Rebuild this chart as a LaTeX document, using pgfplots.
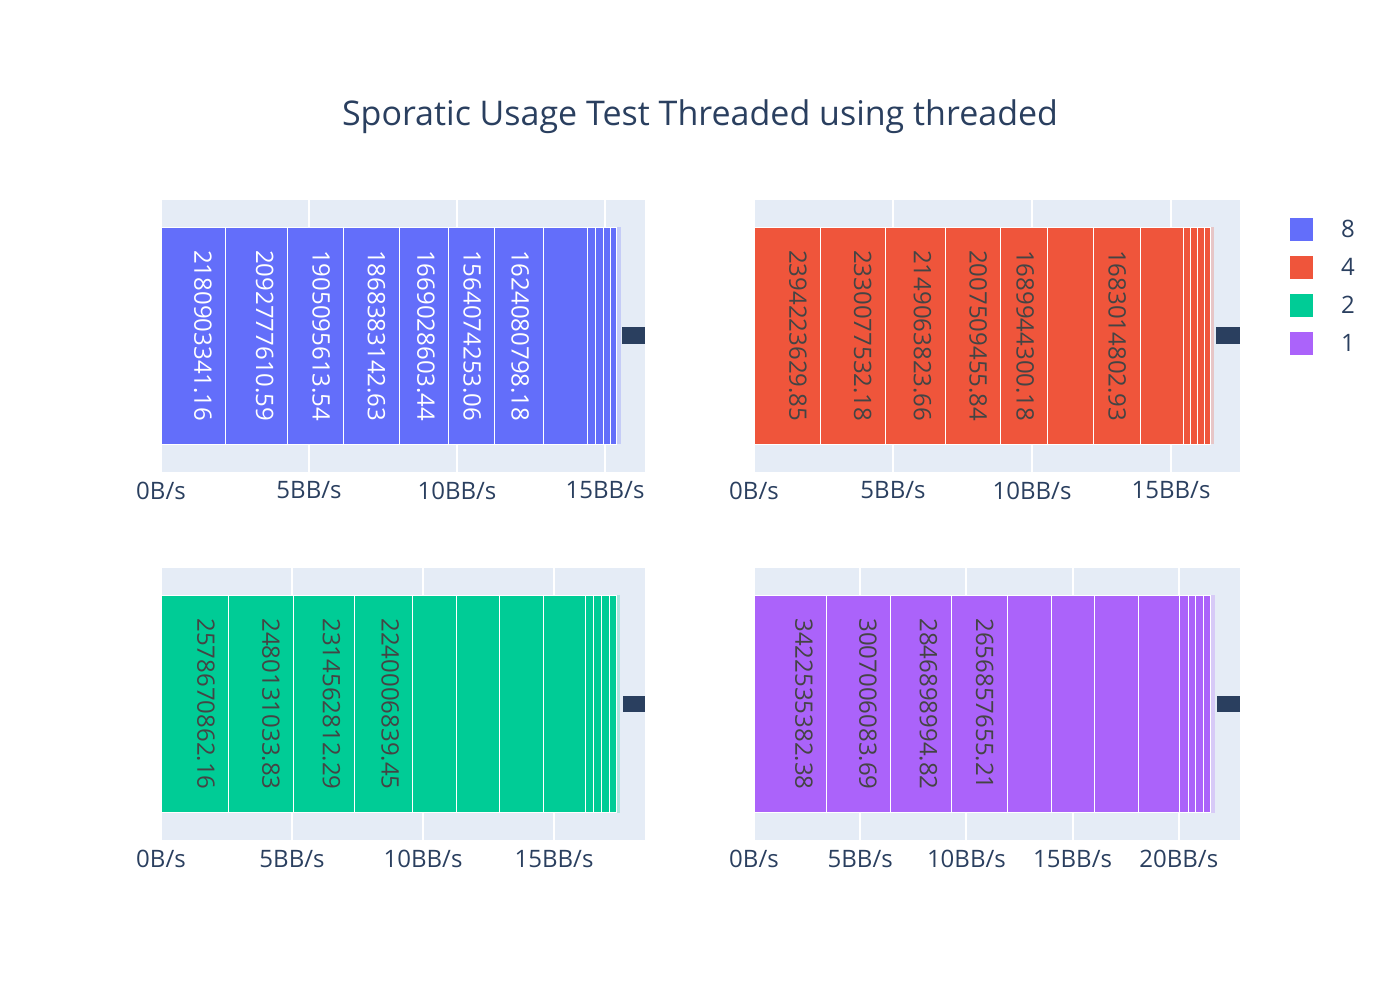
\documentclass[border=0pt]{standalone}
\usepackage{fontspec}
\setmainfont{Open Sans}
\usepackage{pgfplots}
\pgfplotsset{compat=1.18}
\definecolor{bg}{HTML}{E5ECF6}
\definecolor{txt}{HTML}{2A3F5F}
\definecolor{c8}{HTML}{636EFA}
\definecolor{c4}{HTML}{EF553B}
\definecolor{c2}{HTML}{00CC96}
\definecolor{c1}{HTML}{AB63FA}
\definecolor{lbl}{HTML}{444444}
\pgfplotsset{
  sub/.style={
    scale only axis, width=242bp, height=135.8bp,
    axis background/.style={fill=bg},
    axis line style={draw=none},
    xbar stacked, bar width=0.8,
    ymin=-0.5, ymax=0.5, ytick=\empty,
    xmin=0,
    xmajorgrids, grid style={white, line width=1bp},
    major tick length=0pt,
    tick label style={font=\fontsize{12bp}{14bp}\selectfont, text=txt},
    xticklabel style={yshift=-1.5bp},
    /pgf/number format/assume math mode=true,
    every axis plot/.append style={draw=white, line width=0.5bp},
    clip=true,
  },
}
\tikzset{seglbl/.style={rotate=-90, anchor=north, inner sep=0pt, font=\fontsize{12bp}{14bp}\selectfont}}
\begin{document}
\begin{tikzpicture}
\useasboundingbox (0,0) rectangle (700bp,500bp);
\node[text=txt, font=\fontsize{17bp}{20bp}\selectfont] at (350bp,441.5bp) {Sporatic Usage Test Threaded using threaded};

% ---- 8 threads (blue)
\begin{axis}[sub, at={(80.5bp,264.2bp)}, anchor=south west, xmax=16.35,
  xtick={0,5,10,15}, xticklabels={0B/s,5BB/s,10BB/s,15BB/s}]
\addplot[fill=c8] coordinates {(2.18090334116,0)};
\addplot[fill=c8] coordinates {(2.09277761059,0)};
\addplot[fill=c8] coordinates {(1.90509561354,0)};
\addplot[fill=c8] coordinates {(1.86838314263,0)};
\addplot[fill=c8] coordinates {(1.66902860344,0)};
\addplot[fill=c8] coordinates {(1.56407425306,0)};
\addplot[fill=c8] coordinates {(1.62408079818,0)};
\addplot[fill=c8] coordinates {(1.51,0)};
\addplot[fill=c8] coordinates {(0.27,0)};
\addplot[fill=c8] coordinates {(0.27,0)};
\addplot[fill=c8] coordinates {(0.23,0)};
\addplot[fill=c8] coordinates {(0.20,0)};
\addplot[fill=c8!25!bg, draw=none] coordinates {(0.16,0)};
\fill[txt] (axis cs:15.58,-0.031) rectangle (axis cs:16.35,0.031);
\coordinate (a1) at (axis cs:2.18090334,0);
\coordinate (a2) at (axis cs:4.27368095,0);
\coordinate (a3) at (axis cs:6.17877656,0);
\coordinate (a4) at (axis cs:8.04715970,0);
\coordinate (a5) at (axis cs:9.71618830,0);
\coordinate (a6) at (axis cs:11.28026255,0);
\coordinate (a7) at (axis cs:12.90434335,0);
\end{axis}
\node[seglbl, text=white] at ([xshift=-6.75bp]a1) {2180903341.16};
\node[seglbl, text=white] at ([xshift=-6.75bp]a2) {2092777610.59};
\node[seglbl, text=white] at ([xshift=-6.75bp]a3) {1905095613.54};
\node[seglbl, text=white] at ([xshift=-6.75bp]a4) {1868383142.63};
\node[seglbl, text=white] at ([xshift=-6.75bp]a5) {1669028603.44};
\node[seglbl, text=white] at ([xshift=-6.75bp]a6) {1564074253.06};
\node[seglbl, text=white] at ([xshift=-6.75bp]a7) {1624080798.18};

% ---- 4 threads (red)
\begin{axis}[sub, at={(377bp,264.2bp)}, anchor=south west, width=243bp, xmax=17.48,
  xtick={0,5,10,15}, xticklabels={0B/s,5BB/s,10BB/s,15BB/s}]
\addplot[fill=c4] coordinates {(2.39422362985,0)};
\addplot[fill=c4] coordinates {(2.33007753218,0)};
\addplot[fill=c4] coordinates {(2.14906382366,0)};
\addplot[fill=c4] coordinates {(2.00750945584,0)};
\addplot[fill=c4] coordinates {(1.68994430018,0)};
\addplot[fill=c4] coordinates {(1.63,0)};
\addplot[fill=c4] coordinates {(1.68301480293,0)};
\addplot[fill=c4] coordinates {(1.57,0)};
\addplot[fill=c4] coordinates {(0.26,0)};
\addplot[fill=c4] coordinates {(0.25,0)};
\addplot[fill=c4] coordinates {(0.25,0)};
\addplot[fill=c4] coordinates {(0.20,0)};
\addplot[fill=c4!25!bg, draw=none] coordinates {(0.14,0)};
\fill[txt] (axis cs:16.62,-0.031) rectangle (axis cs:17.48,0.031);
\coordinate (b1) at (axis cs:2.39422363,0);
\coordinate (b2) at (axis cs:4.72430116,0);
\coordinate (b3) at (axis cs:6.87336498,0);
\coordinate (b4) at (axis cs:8.88087444,0);
\coordinate (b5) at (axis cs:10.57081874,0);
\coordinate (b6) at (axis cs:13.88383354,0);
\end{axis}
\node[seglbl, text=lbl] at ([xshift=-6.75bp]b1) {2394223629.85};
\node[seglbl, text=lbl] at ([xshift=-6.75bp]b2) {2330077532.18};
\node[seglbl, text=lbl] at ([xshift=-6.75bp]b3) {2149063823.66};
\node[seglbl, text=lbl] at ([xshift=-6.75bp]b4) {2007509455.84};
\node[seglbl, text=lbl] at ([xshift=-6.75bp]b5) {1689944300.18};
\node[seglbl, text=lbl] at ([xshift=-6.75bp]b6) {1683014802.93};

% ---- 2 threads (green)
\begin{axis}[sub, at={(80.5bp,80bp)}, anchor=south west, height=136bp, xmax=18.47,
  xtick={0,5,10,15}, xticklabels={0B/s,5BB/s,10BB/s,15BB/s}]
\addplot[fill=c2] coordinates {(2.57867086216,0)};
\addplot[fill=c2] coordinates {(2.48013103383,0)};
\addplot[fill=c2] coordinates {(2.31456281229,0)};
\addplot[fill=c2] coordinates {(2.24000683945,0)};
\addplot[fill=c2] coordinates {(1.65,0)};
\addplot[fill=c2] coordinates {(1.66,0)};
\addplot[fill=c2] coordinates {(1.68,0)};
\addplot[fill=c2] coordinates {(1.59,0)};
\addplot[fill=c2] coordinates {(0.32,0)};
\addplot[fill=c2] coordinates {(0.31,0)};
\addplot[fill=c2] coordinates {(0.29,0)};
\addplot[fill=c2] coordinates {(0.26,0)};
\addplot[fill=c2!25!bg, draw=none] coordinates {(0.15,0)};
\fill[txt] (axis cs:17.62,-0.031) rectangle (axis cs:18.47,0.031);
\coordinate (c1) at (axis cs:2.57867086,0);
\coordinate (c2) at (axis cs:5.05880190,0);
\coordinate (c3) at (axis cs:7.37336471,0);
\coordinate (c4) at (axis cs:9.61337155,0);
\end{axis}
\node[seglbl, text=lbl] at ([xshift=-6.75bp]c1) {2578670862.16};
\node[seglbl, text=lbl] at ([xshift=-6.75bp]c2) {2480131033.83};
\node[seglbl, text=lbl] at ([xshift=-6.75bp]c3) {2314562812.29};
\node[seglbl, text=lbl] at ([xshift=-6.75bp]c4) {2240006839.45};

% ---- 1 thread (purple)
\begin{axis}[sub, at={(377bp,80bp)}, anchor=south west, width=243bp, height=136bp, xmax=22.88,
  xtick={0,5,10,15,20}, xticklabels={0B/s,5BB/s,10BB/s,15BB/s,20BB/s}]
\addplot[fill=c1] coordinates {(3.42253538238,0)};
\addplot[fill=c1] coordinates {(3.00700608369,0)};
\addplot[fill=c1] coordinates {(2.84689899482,0)};
\addplot[fill=c1] coordinates {(2.65685765521,0)};
\addplot[fill=c1] coordinates {(2.09,0)};
\addplot[fill=c1] coordinates {(2.02,0)};
\addplot[fill=c1] coordinates {(2.07,0)};
\addplot[fill=c1] coordinates {(1.94,0)};
\addplot[fill=c1] coordinates {(0.39,0)};
\addplot[fill=c1] coordinates {(0.36,0)};
\addplot[fill=c1] coordinates {(0.36,0)};
\addplot[fill=c1] coordinates {(0.33,0)};
\addplot[fill=c1!25!bg, draw=none] coordinates {(0.20,0)};
\fill[txt] (axis cs:21.79,-0.031) rectangle (axis cs:22.88,0.031);
\coordinate (d1) at (axis cs:3.42253538,0);
\coordinate (d2) at (axis cs:6.42954146,0);
\coordinate (d3) at (axis cs:9.27644046,0);
\coordinate (d4) at (axis cs:11.93329811,0);
\end{axis}
\node[seglbl, text=lbl] at ([xshift=-6.75bp]d1) {3422535382.38};
\node[seglbl, text=lbl] at ([xshift=-6.75bp]d2) {3007006083.69};
\node[seglbl, text=lbl] at ([xshift=-6.75bp]d3) {2846898994.82};
\node[seglbl, text=lbl] at ([xshift=-6.75bp]d4) {2656857655.21};

% ---- legend
\fill[c8] (645bp,391bp) rectangle (656.5bp,379.5bp);
\fill[c4] (645bp,372bp) rectangle (656.5bp,360.5bp);
\fill[c2] (645bp,353bp) rectangle (656.5bp,341.5bp);
\fill[c1] (645bp,334bp) rectangle (656.5bp,322.5bp);
\node[anchor=west, text=txt, font=\fontsize{12bp}{14bp}\selectfont] at (667bp,385.5bp) {8};
\node[anchor=west, text=txt, font=\fontsize{12bp}{14bp}\selectfont] at (667bp,366.5bp) {4};
\node[anchor=west, text=txt, font=\fontsize{12bp}{14bp}\selectfont] at (667bp,347.5bp) {2};
\node[anchor=west, text=txt, font=\fontsize{12bp}{14bp}\selectfont] at (667bp,328.5bp) {1};
\end{tikzpicture}
\end{document}
